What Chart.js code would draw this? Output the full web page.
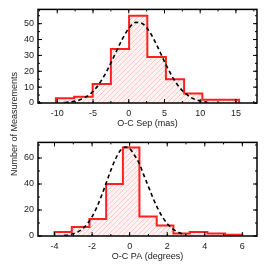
<!DOCTYPE html>
<html>
<head>
<meta charset="utf-8">
<script src="https://cdn.jsdelivr.net/npm/chart.js@4/dist/chart.umd.min.js"></script>
<style>
  html, body { margin: 0; padding: 0; background: #fff; }
  #wrap { position: relative; width: 266px; height: 266px; overflow: hidden; }
  canvas { position: absolute; left: 0; }
  #ytitle {
    position: absolute; left: 14px; top: 124px;
    transform: translate(-50%, -50%) rotate(-90deg);
    font: 9px "Liberation Sans", Arial, sans-serif; color: #222; white-space: nowrap;
  }
</style>
</head>
<body>
<div id="wrap">
  <canvas id="sep" width="266" height="133" style="top:0"></canvas>
  <canvas id="pa" width="266" height="133" style="top:133px"></canvas>
  <div id="ytitle">Number of Measurements</div>
</div>
<script>
// --- top panel: O-C separation histogram ---
const sepEdges = [-10.2, -7.65, -5.05, -2.5, 0.05, 2.6, 5.2, 7.75, 10.3, 12.9, 15.45];
const sepCounts = [3, 4, 12, 34, 55, 29, 15, 6, 2, 2];
const sepCurveX = [-9, -8, -7, -6, -5, -4, -3, -2, -1, 0, 1, 2, 3, 4, 5, 6, 7, 8, 9, 10, 11];
const sepCurveY = [0.3, 0.8, 1.8, 3.8, 7.3, 13, 20.7, 30, 39.4, 47, 50.8, 49.8, 44.3, 35.7, 26.1, 17.3, 10.4, 5.7, 2.8, 1.3, 0.5];
const sepXTicks = [-10, -5, 0, 5, 10, 15];
const sepYTicks = [0, 10, 20, 30, 40, 50];

// --- bottom panel: O-C position angle histogram ---
const paEdges = [-4.0, -3.08, -2.14, -1.25, -0.36, 0.52, 1.44, 2.33, 3.2, 4.14, 5.08, 6.0];
const paCounts = [3, 7, 13, 40, 68, 15, 8, 2, 3, 2, 1];
const paCurveX = [-3.5, -3.25, -3, -2.75, -2.5, -2.25, -2, -1.75, -1.5, -1.25, -1, -0.75, -0.5, -0.25, 0, 0.25, 0.5, 0.75, 1, 1.25, 1.5, 1.75, 2, 2.25, 2.5, 2.75, 3];
const paCurveY = [0.4, 0.9, 1.7, 3.2, 5.6, 9.5, 14.8, 22.1, 30.9, 40.7, 50.6, 59.4, 65.7, 68.4, 67.2, 62.3, 56, 47, 38, 29, 21, 14.5, 9.5, 6, 3.5, 2, 1];
const paXTicks = [-4, -2, 0, 2, 4, 6];
const paYTicks = [0, 20, 40, 60];

const FONT = { family: '"Liberation Sans", Arial, sans-serif', size: 9 };

// step outline points for a histogram
function stepPoints(edges, counts) {
  const pts = [{ x: edges[0], y: 0 }];
  counts.forEach((c, i) => pts.push({ x: edges[i], y: c }));
  pts.push({ x: edges[edges.length - 1], y: counts[counts.length - 1] });
  pts.push({ x: edges[edges.length - 1], y: 0 });
  return pts;
}

function hatch() {
  const c = document.createElement('canvas');
  c.width = 5; c.height = 5;
  const g = c.getContext('2d');
  g.fillStyle = '#fff2f2';
  g.fillRect(0, 0, 5, 5);
  g.strokeStyle = 'rgba(255,150,150,0.45)';
  g.lineWidth = 1;
  g.beginPath();
  g.moveTo(-1, 6); g.lineTo(6, -1);
  g.moveTo(-1, 1); g.lineTo(1, -1);
  g.moveTo(4, 6); g.lineTo(6, 4);
  g.stroke();
  return g.createPattern(c, 'repeat');
}

// frame with inward ticks on all four sides
const framePlugin = {
  id: 'frame',
  afterDraw(chart, args, opts) {
    const { ctx, chartArea: a, scales } = chart;
    ctx.save();
    ctx.strokeStyle = '#000';
    ctx.lineWidth = 1;
    const tick = (scale, step, len) => {
      for (let v = Math.ceil(scale.min / step) * step; v <= scale.max + 1e-9; v += step) {
        const p = scale.getPixelForValue(v);
        ctx.beginPath();
        if (scale.isHorizontal()) {
          ctx.moveTo(p, a.bottom); ctx.lineTo(p, a.bottom - len);
          ctx.moveTo(p, a.top); ctx.lineTo(p, a.top + len);
        } else {
          ctx.moveTo(a.left, p); ctx.lineTo(a.left + len, p);
          ctx.moveTo(a.right, p); ctx.lineTo(a.right - len, p);
        }
        ctx.stroke();
      }
    };
    tick(scales.x, opts.xMajor, 4);
    tick(scales.x, opts.xMinor, 2);
    tick(scales.y, opts.yMajor, 4);
    tick(scales.y, opts.yMinor, 2);
    ctx.lineWidth = 1.5;
    ctx.strokeRect(a.left, a.top, a.right - a.left, a.bottom - a.top);
    ctx.restore();
  }
};

function makeChart(id, p) {
  return new Chart(document.getElementById(id), {
    type: 'line',
    data: {
      datasets: [
        {
          data: p.curveX.map((x, i) => ({ x, y: p.curveY[i] })),
          borderColor: '#000',
          borderWidth: 1.6,
          borderDash: [4, 3],
          pointRadius: 0,
          cubicInterpolationMode: 'monotone',
          fill: false,
          order: 0
        },
        {
          data: stepPoints(p.edges, p.counts),
          stepped: 'before',
          borderColor: '#ff2020',
          borderWidth: 2,
          backgroundColor: hatch(),
          fill: 'origin',
          pointRadius: 0,
          order: 1
        }
      ]
    },
    options: {
      responsive: false,
      animation: false,
      layout: { padding: { left: 0, right: 9, top: p.top, bottom: 0 } },
      plugins: {
        legend: { display: false },
        tooltip: { enabled: false },
        frame: p.frame
      },
      scales: {
        x: {
          type: 'linear',
          min: p.xMin, max: p.xMax,
          grid: { display: false, drawTicks: false, tickLength: 0 },
          border: { display: false },
          afterBuildTicks: s => { s.ticks = p.xTicks.map(v => ({ value: v })); },
          afterFit: s => { s.height = 30; },
          ticks: { font: FONT, color: '#222', padding: 5, maxRotation: 0, autoSkip: false },
          title: { display: true, text: p.xTitle, font: FONT, color: '#222', padding: { top: 0, bottom: 4 } }
        },
        y: {
          type: 'linear',
          min: 0, max: p.yMax,
          grid: { display: false, drawTicks: false, tickLength: 0 },
          border: { display: false },
          afterBuildTicks: s => { s.ticks = p.yTicks.map(v => ({ value: v })); },
          afterFit: s => { s.width = 38; },
          ticks: { font: FONT, color: '#222', padding: 4, autoSkip: false }
        }
      }
    },
    plugins: [framePlugin]
  });
}

makeChart('sep', {
  edges: sepEdges, counts: sepCounts, curveX: sepCurveX, curveY: sepCurveY,
  xTicks: sepXTicks, yTicks: sepYTicks, xMin: -12.7, xMax: 17.95, yMax: 59,
  xTitle: 'O-C Sep (mas)', top: 5,
  frame: { xMajor: 5, xMinor: 2.5, yMajor: 10, yMinor: 5 }
});

makeChart('pa', {
  edges: paEdges, counts: paCounts, curveX: paCurveX, curveY: paCurveY,
  xTicks: paXTicks, yTicks: paYTicks, xMin: -4.88, xMax: 6.78, yMax: 72,
  xTitle: 'O-C PA (degrees)', top: 6.7,
  frame: { xMajor: 2, xMinor: 1, yMajor: 20, yMinor: 10 }
});
</script>
</body>
</html>
